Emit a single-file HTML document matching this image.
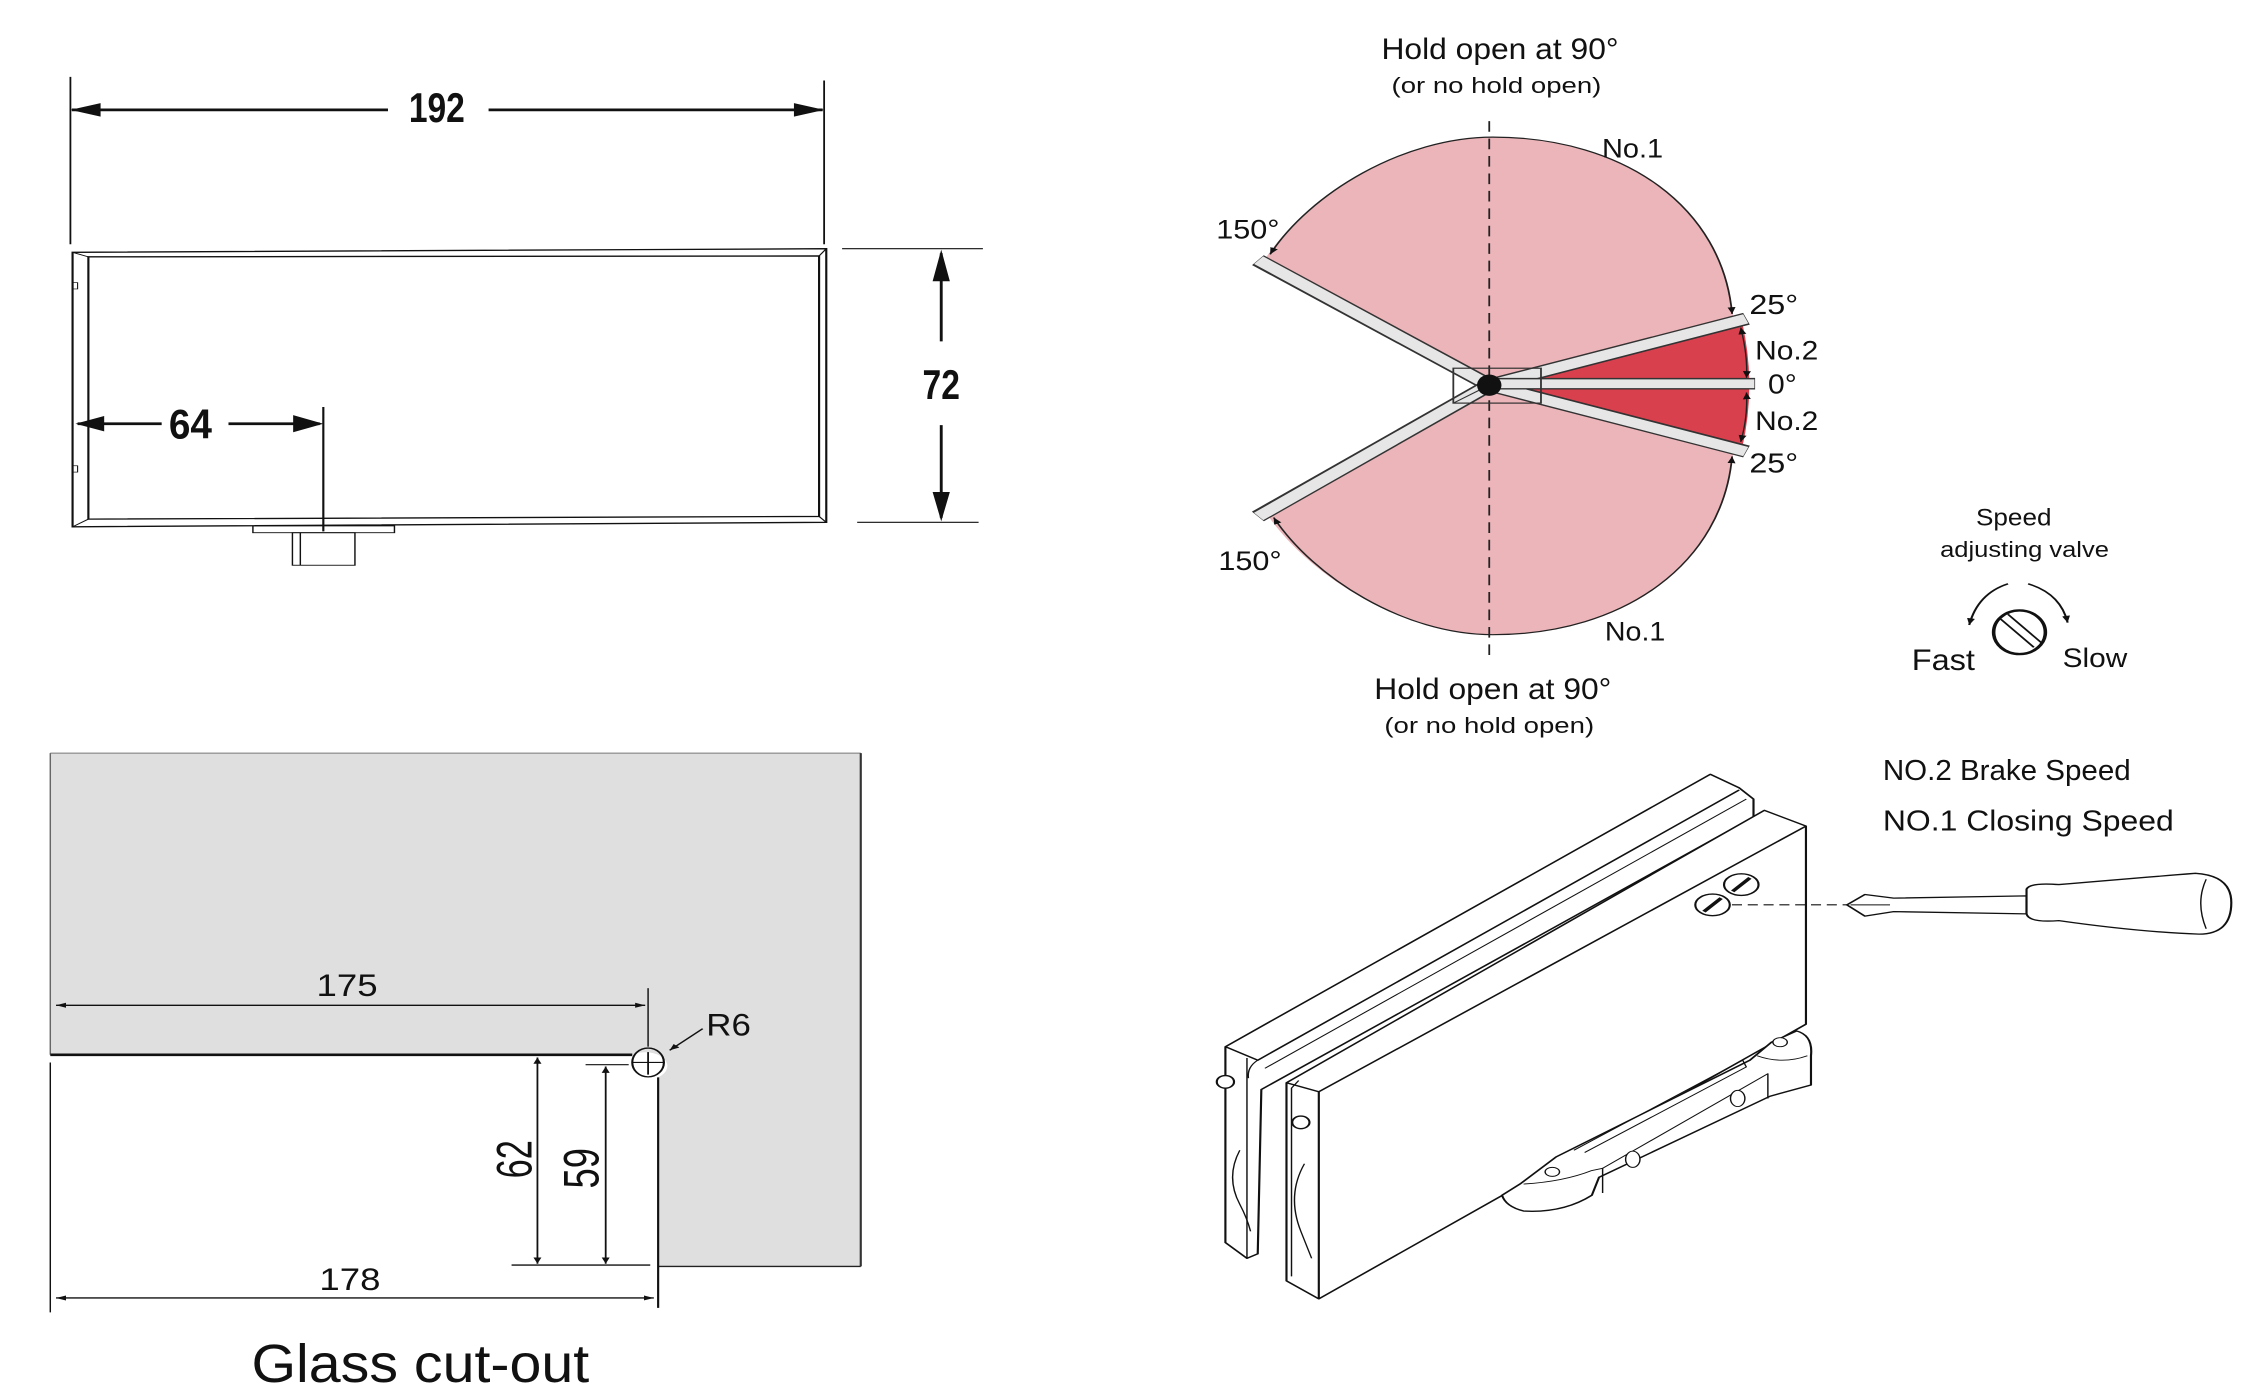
<!DOCTYPE html>
<html><head><meta charset="utf-8"><style>
html,body{margin:0;padding:0;background:#fff;overflow:hidden}
svg{display:block}
text{font-family:"Liberation Sans Narrow","Liberation Sans",sans-serif;fill:#111}
</style></head><body>
<svg width="2250" height="1397" viewBox="0 0 2250 1397" xmlns="http://www.w3.org/2000/svg">
<defs>
<marker id="ahs" viewBox="0 0 10 10" refX="10" refY="5" markerWidth="14" markerHeight="14" orient="auto-start-reverse" markerUnits="userSpaceOnUse"><path d="M0,1 L10,5 L0,9 Z" fill="#111"/></marker>
</defs>

<!-- ===== Top-left: dimension drawing ===== -->
<g transform="scale(0.7185,0.45220)" stroke="#111" fill="none">
 <line x1="98" y1="170" x2="98" y2="540" stroke-width="2.5"/>
 <line x1="1147" y1="178" x2="1147" y2="540" stroke-width="2.5"/>
 <line x1="100" y1="243" x2="540" y2="243" stroke-width="6"/>
 <line x1="680" y1="243" x2="1145" y2="243" stroke-width="6"/>
 <path d="M98,243 L140,228 L140,258 Z M1147,243 L1105,228 L1105,258 Z" fill="#111" stroke="none"/>
 <polygon points="101,558 1150,550 1150,1155 101,1165" stroke-width="3"/>
 <polygon points="123,568 1140,566 1140,1142 123,1148" stroke-width="3"/>
 <line x1="101" y1="558" x2="123" y2="568" stroke-width="2"/>
 <line x1="1150" y1="550" x2="1140" y2="566" stroke-width="2"/>
 <line x1="101" y1="1165" x2="123" y2="1148" stroke-width="2"/>
 <line x1="1150" y1="1155" x2="1140" y2="1142" stroke-width="2"/>
 <rect x="101" y="625" width="7" height="14" stroke-width="1.5"/>
 <rect x="101" y="1030" width="7" height="14" stroke-width="1.5"/>
 <line x1="108" y1="937" x2="225" y2="937" stroke-width="6"/>
 <line x1="318" y1="937" x2="445" y2="937" stroke-width="6"/>
 <path d="M105,937 L145,920 L145,954 Z M450,937 L408,918 L408,956 Z" fill="#111" stroke="none"/>
 <line x1="450" y1="900" x2="450" y2="1175" stroke-width="3"/>
 <rect x="352" y="1163" width="197" height="15" stroke-width="2"/>
 <rect x="407" y="1178" width="87" height="72" stroke-width="2"/>
 <line x1="418" y1="1178" x2="418" y2="1250" stroke-width="2"/>
 <line x1="1172" y1="550" x2="1368" y2="550" stroke-width="2.5"/>
 <line x1="1193" y1="1155" x2="1362" y2="1155" stroke-width="2.5"/>
 <line x1="1310" y1="560" x2="1310" y2="755" stroke-width="4"/>
 <line x1="1310" y1="940" x2="1310" y2="1145" stroke-width="4"/>
 <path d="M1310,552 L1298,622 L1322,622 Z M1310,1153 L1298,1088 L1322,1088 Z" fill="#111" stroke="none"/>
 <g stroke="none">
 <text x="608" y="270" font-size="92" font-weight="bold" text-anchor="middle" textLength="78" lengthAdjust="spacingAndGlyphs">192</text>
 <text x="265" y="970" font-size="92" font-weight="bold" text-anchor="middle" textLength="60" lengthAdjust="spacingAndGlyphs">64</text>
 <text x="1310" y="882" font-size="92" font-weight="bold" text-anchor="middle" textLength="52" lengthAdjust="spacingAndGlyphs">72</text>
 </g>
</g>

<!-- ===== Top-right: opening diagram ===== -->
<g transform="translate(1130,0) scale(0.7185,0.48450)">
 <path d="M500,795 L190,530 C250,400 380,283 505,283 C690,283 825,430 840,660 Z" fill="#ecb5ba"/>
 <path d="M500,795 L190,1060 C250,1190 380,1310 505,1310 C690,1310 825,1160 840,930 Z" fill="#ecb5ba"/>
 <path d="M500,795 L852,665 Q872,795 852,925 Z" fill="#d9404e"/>
 <path d="M195,525 C250,400 380,283 505,283 C690,283 825,430 838,648" fill="none" stroke="#222" stroke-width="2.5" marker-start="url(#ahs)" marker-end="url(#ahs)"/>
 <path d="M200,1068 C255,1190 380,1310 505,1310 C690,1310 825,1160 838,942" fill="none" stroke="#222" stroke-width="2.5" marker-start="url(#ahs)" marker-end="url(#ahs)"/>
 <path d="M850,676 Q860,735 858,780" fill="none" stroke="#222" stroke-width="2" marker-start="url(#ahs)" marker-end="url(#ahs)"/>
 <path d="M858,810 Q860,860 850,912" fill="none" stroke="#222" stroke-width="2" marker-start="url(#ahs)" marker-end="url(#ahs)"/>
 <line x1="500" y1="250" x2="500" y2="1360" stroke="#222" stroke-width="2.5" stroke-dasharray="22,14"/>
 <g stroke-linecap="butt">
  <line x1="500" y1="795" x2="178" y2="537" stroke="#333" stroke-width="26"/>
  <line x1="500" y1="795" x2="179" y2="537" stroke="#e6e6e6" stroke-width="20"/>
  <line x1="500" y1="795" x2="178" y2="1066" stroke="#333" stroke-width="26"/>
  <line x1="500" y1="795" x2="179" y2="1066" stroke="#e6e6e6" stroke-width="20"/>
  <line x1="500" y1="795" x2="858" y2="658" stroke="#333" stroke-width="26"/>
  <line x1="500" y1="795" x2="857" y2="658" stroke="#e6e6e6" stroke-width="20"/>
  <line x1="500" y1="795" x2="858" y2="932" stroke="#333" stroke-width="26"/>
  <line x1="500" y1="795" x2="857" y2="932" stroke="#e6e6e6" stroke-width="20"/>
  <line x1="500" y1="792" x2="870" y2="792" stroke="#333" stroke-width="24"/>
  <line x1="500" y1="792" x2="869" y2="792" stroke="#e6e6e6" stroke-width="18"/>
 </g>
 <rect x="450" y="760" width="122" height="72" fill="none" stroke="#333" stroke-width="2.5"/>
 <line x1="450" y1="832" x2="500" y2="795" stroke="#333" stroke-width="2"/>
 <ellipse cx="500" cy="795" rx="17" ry="22" fill="#111"/>
 <g font-size="62">
  <text x="515" y="122" text-anchor="middle" textLength="330" lengthAdjust="spacingAndGlyphs">Hold open at 90°</text>
  <text x="510" y="192" font-size="46" text-anchor="middle" textLength="292" lengthAdjust="spacingAndGlyphs">(or no hold open)</text>
  <text x="505" y="1443" text-anchor="middle" textLength="330" lengthAdjust="spacingAndGlyphs">Hold open at 90°</text>
  <text x="500" y="1513" font-size="46" text-anchor="middle" textLength="292" lengthAdjust="spacingAndGlyphs">(or no hold open)</text>
  <text x="120" y="492" font-size="56" textLength="88" lengthAdjust="spacingAndGlyphs">150°</text>
  <text x="123" y="1177" font-size="56" textLength="88" lengthAdjust="spacingAndGlyphs">150°</text>
  <text x="657" y="325" font-size="56" textLength="85" lengthAdjust="spacingAndGlyphs">No.1</text>
  <text x="661" y="1322" font-size="56" textLength="84" lengthAdjust="spacingAndGlyphs">No.1</text>
  <text x="862" y="648" font-size="58" textLength="68" lengthAdjust="spacingAndGlyphs">25°</text>
  <text x="862" y="975" font-size="58" textLength="68" lengthAdjust="spacingAndGlyphs">25°</text>
  <text x="870" y="742" font-size="56" textLength="88" lengthAdjust="spacingAndGlyphs">No.2</text>
  <text x="870" y="888" font-size="56" textLength="88" lengthAdjust="spacingAndGlyphs">No.2</text>
  <text x="888" y="812" font-size="58" textLength="40" lengthAdjust="spacingAndGlyphs">0°</text>
  <text x="1230" y="1085" font-size="50" text-anchor="middle" textLength="105" lengthAdjust="spacingAndGlyphs">Speed</text>
  <text x="1245" y="1150" font-size="46" text-anchor="middle" textLength="235" lengthAdjust="spacingAndGlyphs">adjusting valve</text>
  <text x="1088" y="1383" font-size="62" textLength="88" lengthAdjust="spacingAndGlyphs">Fast</text>
  <text x="1298" y="1377" font-size="56" textLength="90" lengthAdjust="spacingAndGlyphs">Slow</text>
 </g>
 <ellipse cx="1238" cy="1305" rx="36" ry="45" fill="none" stroke="#111" stroke-width="5"/>
 <line x1="1212" y1="1278" x2="1258" y2="1336" stroke="#111" stroke-width="3"/>
 <line x1="1222" y1="1268" x2="1268" y2="1326" stroke="#111" stroke-width="3"/>
 <path d="M1222,1205 Q1180,1225 1168,1290" fill="none" stroke="#111" stroke-width="3" marker-end="url(#ahs)"/>
 <path d="M1250,1205 Q1295,1225 1305,1285" fill="none" stroke="#111" stroke-width="3" marker-end="url(#ahs)"/>
</g>

<!-- ===== Bottom-left: glass cut-out ===== -->
<g transform="translate(0,700) scale(0.7185,0.45026)">
 <path d="M70,118 L1198,118 L1198,1258 L916,1258 L916,838 A24,24 0 0 0 880,788 L70,788 Z" fill="#dfdfdf"/>
 <line x1="70" y1="118" x2="1198" y2="118" stroke="#777" stroke-width="2"/>
 <line x1="1198" y1="118" x2="1198" y2="1258" stroke="#333" stroke-width="3"/>
 <line x1="916" y1="1258" x2="1198" y2="1258" stroke="#222" stroke-width="3"/>
 <line x1="70" y1="118" x2="70" y2="788" stroke="#666" stroke-width="2"/>
 <line x1="70" y1="788" x2="880" y2="788" stroke="#111" stroke-width="6"/>
 <ellipse cx="902" cy="805" rx="22" ry="32" fill="none" stroke="#111" stroke-width="3"/>
 <line x1="880" y1="805" x2="925" y2="805" stroke="#111" stroke-width="2.5"/>
 <line x1="902" y1="782" x2="902" y2="832" stroke="#111" stroke-width="2.5"/>
 <line x1="916" y1="838" x2="916" y2="1350" stroke="#111" stroke-width="3"/>
 <line x1="70" y1="805" x2="70" y2="1360" stroke="#111" stroke-width="2"/>
 <line x1="902" y1="640" x2="902" y2="770" stroke="#111" stroke-width="2"/>
 <line x1="78" y1="678" x2="898" y2="678" stroke="#111" stroke-width="3" marker-start="url(#ahs)" marker-end="url(#ahs)"/>
 <line x1="978" y1="730" x2="932" y2="778" stroke="#111" stroke-width="2.5" marker-end="url(#ahs)"/>
 <line x1="748" y1="794" x2="748" y2="1252" stroke="#111" stroke-width="2.5" marker-start="url(#ahs)" marker-end="url(#ahs)"/>
 <line x1="843" y1="814" x2="843" y2="1252" stroke="#111" stroke-width="2.5" marker-start="url(#ahs)" marker-end="url(#ahs)"/>
 <line x1="815" y1="810" x2="875" y2="810" stroke="#111" stroke-width="2.5"/>
 <line x1="712" y1="1255" x2="905" y2="1255" stroke="#111" stroke-width="3"/>
 <line x1="78" y1="1328" x2="910" y2="1328" stroke="#111" stroke-width="3" marker-start="url(#ahs)" marker-end="url(#ahs)"/>
 <text x="483" y="657" font-size="70" text-anchor="middle" textLength="85" lengthAdjust="spacingAndGlyphs">175</text>
 <text x="983" y="745" font-size="70" textLength="62" lengthAdjust="spacingAndGlyphs">R6</text>
 <text x="487" y="1310" font-size="70" text-anchor="middle" textLength="85" lengthAdjust="spacingAndGlyphs">178</text>
 <text transform="translate(740,1020) rotate(-90)" font-size="70" text-anchor="middle" textLength="85" lengthAdjust="spacingAndGlyphs">62</text>
 <text transform="translate(833,1040) rotate(-90)" font-size="70" text-anchor="middle" textLength="90" lengthAdjust="spacingAndGlyphs">59</text>
 <text x="585" y="1515" font-size="120" text-anchor="middle" textLength="470" lengthAdjust="spacingAndGlyphs">Glass cut-out</text>
</g>

<!-- ===== Bottom-right: hardware ===== -->
<g transform="translate(1132,700) scale(0.7185,0.45026)" fill="#fff" stroke="#111" stroke-width="3" stroke-linejoin="round">
 <path d="M130,770 L805,165 L845,195 L865,220 L865,260 L180,865 L175,1230 L160,1240 L130,1205 Z"/>
 <path d="M130,770 L175,800 L845,200" fill="none"/>
 <path d="M160,795 L160,1240" fill="none" stroke-width="2"/>
 <path d="M175,800 Q160,815 162,840" fill="none" stroke-width="2"/>
 <path d="M185,818 L855,220" fill="none" stroke-width="2"/>
 <path d="M150,1000 Q130,1060 150,1120 Q160,1150 165,1180" fill="none" stroke-width="2"/>
 <ellipse cx="130" cy="848" rx="12" ry="14"/>
 <path d="M215,850 L880,245 L938,280 L938,720 L260,1330 L215,1290 Z"/>
 <path d="M215,850 L260,870 L938,280" fill="none"/>
 <line x1="260" y1="870" x2="260" y2="1330"/>
 <path d="M232,845 L222,862 L222,1280" fill="none" stroke-width="2"/>
 <path d="M240,1030 Q215,1100 235,1180 Q245,1220 250,1240" fill="none" stroke-width="2"/>
 <ellipse cx="235" cy="938" rx="12" ry="14"/>
 <circle cx="808" cy="455" r="24"/>
 <line x1="796" y1="470" x2="820" y2="440" stroke-width="6"/>
 <circle cx="848" cy="410" r="24"/>
 <line x1="836" y1="425" x2="860" y2="395" stroke-width="6"/>
 <path d="M515,1100 L540,1075 L590,1015 L860,800 L890,760 L925,735 Q948,745 945,790 L945,855 L888,880 L650,1060 L640,1100 Q600,1140 545,1135 Q520,1125 515,1100 Z"/>
 <path d="M545,1075 Q600,1070 640,1045 L655,1040 L655,1095" fill="none" stroke-width="2"/>
 <path d="M655,1040 L885,830 L885,885" fill="none" stroke-width="2"/>
 <path d="M870,790 Q905,810 940,790" fill="none" stroke-width="2"/>
 <path d="M615,1000 L850,800 L855,815 L630,1005" fill="none" stroke-width="2"/>
 <circle cx="585" cy="1048" r="10" stroke-width="2"/>
 <circle cx="902" cy="760" r="10" stroke-width="2"/>
 <ellipse cx="697" cy="1020" rx="10" ry="18" stroke-width="2"/>
 <ellipse cx="843" cy="885" rx="10" ry="18" stroke-width="2"/>
 <line x1="835" y1="455" x2="1000" y2="455" stroke-dasharray="14,8" stroke-width="2.5"/>
 <path d="M995,455 L1020,432 L1060,440 L1245,435 L1245,475 L1060,470 L1020,480 Z"/>
 <line x1="1000" y1="455" x2="1055" y2="455" stroke-width="2"/>
 <path d="M1245,420 Q1250,405 1290,410 Q1400,395 1480,385 Q1530,390 1530,450 Q1530,520 1485,520 Q1400,515 1290,490 Q1248,495 1245,475 Z"/>
 <path d="M1495,398 Q1480,450 1495,508" fill="none" stroke-width="2"/>
 <g stroke="none" fill="#111">
  <text x="1045" y="178" font-size="64" textLength="345" lengthAdjust="spacingAndGlyphs">NO.2 Brake Speed</text>
  <text x="1045" y="290" font-size="64" textLength="405" lengthAdjust="spacingAndGlyphs">NO.1 Closing Speed</text>
 </g>
</g>
</svg>
</body></html>
